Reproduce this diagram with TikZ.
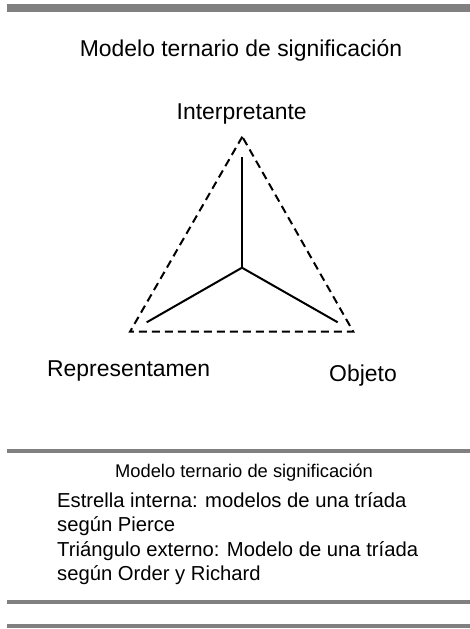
\documentclass[tikz,border=0pt]{standalone}
\usepackage{fontspec}
\setmainfont{Liberation Sans}
\tikzset{
  bar/.style={fill=black!50, draw=none},
  lbl/.style={anchor=base, inner sep=0pt, font=\fontsize{23}{28}\selectfont},
  subt/.style={anchor=base, inner sep=0pt, font=\fontsize{18.4}{22}\selectfont},
  body/.style={anchor=base west, inner sep=0pt, font=\fontsize{20.3}{24.5}\selectfont},
  tri/.style={line width=2bp, dash pattern=on 8bp off 5bp, line join=miter},
  starline/.style={line width=2bp}
}
\begin{document}
\begin{tikzpicture}[x=1bp, y=-1bp]
\useasboundingbox (0,0) rectangle (470,629);
% bars
\fill[bar] (7,4) rectangle (470,12);
\fill[bar] (7,449) rectangle (470,453);
\fill[bar] (7,600) rectangle (470,604);
\fill[bar] (7,624.3) rectangle (470,628.3);
% title
\node[lbl] (title) at (241,56.7) {Modelo ternario de significación};
% labels
\node[lbl] (interp) at (241.7,119.3) {Interpretante};
\node[lbl] (repr) at (128.7,376) {Representamen};
\node[lbl] (obj) at (363,381.5) {Objeto};
% triangle vertices
\coordinate (tA) at (242.3,136.7);
\coordinate (tL) at (130,331.7);
\coordinate (tR) at (353.3,331.7);
\draw[tri] (tA) -- (tL) -- (tR) -- cycle;
% star
\coordinate (sc) at (242,267.7);
\coordinate (sT) at (242,157.3);
\coordinate (sL) at (146.7,322.3);
\coordinate (sR) at (337.7,322.3);
\draw[starline] (sT) -- (sc);
\draw[starline] (sc) -- (sL);
\draw[starline] (sc) -- (sR);
% caption
\node[subt] (sub) at (244,477.5) {Modelo ternario de significación};
\node[body] (l1) at (57,507) {Estrella interna: modelos de una tríada};
\node[body] (l2) at (57,531.5) {según Pierce};
\node[body] (l3) at (57,556) {Triángulo externo: Modelo de una tríada};
\node[body] (l4) at (57,580.5) {según Order y Richard};
\end{tikzpicture}
\end{document}
